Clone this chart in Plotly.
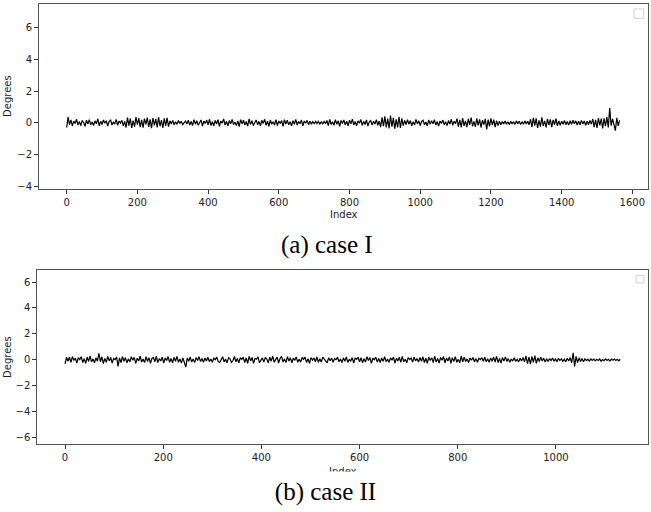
import plotly.graph_objects as go

W, H = 651, 512

# ---------------- data ----------------
# case I: sampled every 4th index (0..1564)
step_a = 4
degrees_a = [
    -0.30, 0.35, -0.12, 0.18, -0.20, 0.10, -0.05, 0.22, -0.15, 0.08, -0.18, 0.14, 0.02, -0.22, 0.16, -0.08, 0.20, -0.12, 0.05, -0.17,
    0.12, -0.06, 0.24, -0.19, 0.09, -0.11, 0.17, -0.03, 0.13, -0.21, 0.07, 0.19, -0.14, 0.04, -0.09, 0.21, -0.16, 0.11, -0.02, 0.15,
    -0.20, 0.08, -0.30, 0.32, -0.18, 0.27, -0.33, 0.14, -0.25, 0.35, -0.12, 0.29, -0.28, 0.19, -0.31, 0.26, -0.10, 0.33, -0.27, 0.21,
    -0.34, 0.30, -0.16, 0.24, -0.29, 0.36, -0.22, 0.17, -0.32, 0.28, -0.19, 0.31, -0.24, 0.12, -0.08, 0.15, -0.13, 0.06, -0.10, 0.14,
    -0.05, 0.09, -0.12, 0.03, 0.11, -0.07, 0.16, -0.14, 0.08, -0.18, 0.20, -0.09, 0.13, -0.16, 0.05, 0.18, -0.21, 0.10, -0.04, 0.17,
    -0.13, 0.22, -0.17, 0.06, -0.20, 0.15, -0.08, 0.19, -0.23, 0.11, -0.02, 0.24, -0.15, 0.09, -0.19, 0.14, -0.06, 0.21, -0.11, 0.04,
    -0.18, 0.12, -0.24, 0.20, -0.07, 0.16, -0.14, 0.08, -0.21, 0.25, -0.10, 0.13, -0.17, 0.05, 0.18, -0.12, 0.09, -0.20, 0.15, -0.04,
    0.22, -0.16, 0.10, -0.22, 0.17, -0.09, 0.06, -0.14, 0.20, -0.18, 0.11, -0.05, 0.14, -0.23, 0.19, -0.08, 0.16, -0.13, 0.07, -0.19,
    0.13, -0.10, 0.21, -0.15, 0.08, -0.06, 0.17, -0.20, 0.11, -0.03, 0.15, -0.12, 0.09, -0.10, 0.07, -0.06, 0.09, -0.05, 0.08, -0.08,
    0.06, -0.07, 0.08, -0.06, 0.14, -0.18, 0.21, -0.11, 0.07, -0.16, 0.19, -0.09, 0.12, -0.22, 0.15, -0.05, 0.18, -0.13, 0.10, -0.20,
    0.16, -0.07, 0.23, -0.14, 0.08, -0.19, 0.12, -0.03, 0.20, -0.17, 0.09, -0.11, 0.18, -0.21, 0.06, 0.14, -0.15, 0.10, -0.08, 0.19,
    -0.16, 0.11, -0.28, 0.34, -0.22, 0.40, -0.30, 0.26, -0.36, 0.45, -0.25, 0.31, -0.38, 0.22, -0.29, 0.37, -0.33, 0.28, -0.18, 0.15,
    -0.12, 0.20, -0.09, 0.14, -0.19, 0.07, -0.15, 0.21, -0.06, 0.12, -0.17, 0.09, 0.16, -0.13, 0.05, -0.20, 0.18, -0.10, 0.13, -0.07,
    0.19, -0.15, 0.08, -0.21, 0.11, -0.04, 0.17, -0.12, 0.06, -0.18, 0.14, -0.09, 0.22, -0.16, 0.10, -0.06, 0.26, -0.24, 0.18, -0.29,
    0.30, -0.20, 0.12, -0.27, 0.25, -0.14, 0.33, -0.22, 0.09, -0.26, 0.28, -0.17, 0.21, -0.30, 0.16, -0.12, 0.24, -0.42, 0.19, -0.23,
    0.27, -0.15, 0.20, -0.28, 0.13, -0.18, 0.10, -0.12, 0.08, -0.07, 0.11, -0.09, 0.06, -0.12, 0.10, -0.08, 0.07, -0.11, 0.12, -0.06,
    0.09, -0.11, 0.07, -0.10, 0.12, -0.08, 0.10, -0.12, 0.22, -0.26, 0.31, -0.18, 0.28, -0.33, 0.15, -0.24, 0.34, -0.20, 0.12, -0.29,
    0.25, -0.14, 0.21, -0.27, 0.18, -0.11, 0.26, -0.19, 0.12, -0.16, 0.10, -0.09, 0.14, -0.12, 0.08, -0.15, 0.13, -0.10, 0.16, -0.07,
    0.12, -0.14, 0.09, -0.13, 0.15, -0.08, 0.11, -0.16, 0.10, -0.12, 0.14, -0.09, 0.24, -0.28, 0.19, -0.33, 0.30, -0.17, 0.26, -0.35,
    0.28, -0.22, 0.36, -0.30, 0.92, -0.18, 0.24, -0.12, -0.50, 0.31, -0.20, 0.15,
]
index_a = [i * step_a for i in range(len(degrees_a))]

# case II: sampled every 3rd index (0..1131)
step_b = 3
degrees_b = [
    -0.30, 0.20, -0.10, 0.22, -0.18, 0.26, -0.04, 0.14, -0.24, 0.18, 0.02, 0.25, -0.20, 0.10, -0.27, 0.22, -0.12, 0.30, -0.16, 0.08,
    -0.22, 0.16, -0.10, 0.50, -0.14, 0.24, -0.28, 0.12, -0.18, 0.27, -0.08, 0.19, -0.25, 0.11, 0.03, 0.22, -0.50, 0.15, -0.20, 0.26,
    -0.11, 0.18, -0.23, 0.08, -0.15, 0.24, -0.02, 0.20, -0.26, 0.14, -0.09, 0.28, -0.16, 0.07, -0.21, 0.25, -0.12, 0.17, -0.27, 0.11,
    0.19, -0.14, 0.29, -0.20, 0.10, -0.08, 0.22, -0.24, 0.15, -0.04, 0.26, -0.18, 0.12, -0.22, 0.20, -0.11, 0.27, -0.19, 0.08, -0.25,
    0.16, -0.30, -0.55, 0.14, -0.10, 0.22, -0.16, 0.07, -0.21, 0.18, -0.05, 0.24, -0.13, 0.11, -0.19, 0.15, -0.08, 0.20, -0.12, 0.06,
    -0.18, 0.14, 0.02, 0.21, -0.12, -0.20, 0.09, 0.24, -0.15, 0.06, -0.22, 0.17, 0.08, -0.19, -0.05, 0.26, -0.14, 0.11, -0.23, 0.18,
    0.03, 0.22, -0.20, 0.15, -0.26, 0.28, -0.08, 0.19, -0.27, 0.12, 0.05, 0.24, -0.21, -0.04, 0.16, -0.17, 0.20, 0.07, -0.23, 0.21,
    -0.10, 0.29, -0.18, 0.02, 0.22, -0.24, 0.11, 0.27, -0.16, 0.08, -0.21, 0.25, -0.09, 0.17, -0.22, 0.13, -0.03, 0.23, -0.19, 0.06,
    -0.17, 0.19, 0.04, 0.22, -0.20, 0.10, -0.26, 0.18, -0.02, 0.15, -0.14, 0.24, -0.18, 0.09, -0.16, 0.21, 0.05, -0.12, -0.22, 0.17,
    -0.06, 0.14, -0.18, 0.11, 0.02, 0.20, -0.15, 0.07, -0.21, 0.16, -0.10, 0.23, -0.19, 0.03, -0.08, 0.18, -0.24, 0.14, 0.04, 0.20,
    -0.14, 0.17, -0.22, 0.09, -0.16, 0.25, -0.04, 0.19, -0.26, 0.13, 0.01, 0.21, -0.17, 0.12, -0.20, 0.15, -0.11, 0.24, -0.13, 0.06,
    -0.19, 0.16, -0.02, 0.22, -0.24, 0.12, -0.08, 0.20, -0.18, 0.27, -0.14, 0.05, -0.22, 0.18, 0.03, 0.14, -0.17, 0.21, -0.07, 0.11,
    -0.16, 0.19, -0.10, 0.24, -0.20, 0.13, -0.26, 0.22, -0.05, 0.17, -0.21, 0.28, -0.17, 0.12, -0.24, 0.19, -0.02, 0.26, -0.22, 0.15,
    -0.09, 0.23, -0.27, 0.17, -0.13, 0.25, -0.18, 0.04, -0.23, 0.30, -0.15, 0.20, -0.12, 0.08, -0.20, 0.15, -0.03, 0.19, -0.14, 0.10,
    -0.18, 0.13, 0.02, 0.17, -0.11, 0.20, -0.15, 0.09, -0.19, 0.14, -0.10, 0.22, -0.16, 0.27, -0.21, 0.11, -0.25, 0.18, -0.08, 0.23,
    -0.13, 0.10, -0.18, 0.07, -0.09, 0.16, -0.11, 0.05, -0.15, 0.12, -0.08, 0.18, -0.14, 0.30, -0.28, 0.22, -0.32, 0.25, -0.19, 0.33,
    -0.26, 0.16, -0.12, 0.20, -0.09, 0.14, -0.17, 0.08, -0.13, 0.11, -0.06, 0.15, -0.10, 0.07, -0.14, 0.12, -0.05, 0.09, -0.11, 0.06,
    -0.15, 0.13, -0.08, 0.18, -0.22, 0.55, -0.50, 0.28, -0.20, 0.16, -0.12, 0.10, -0.14, 0.08, -0.06, 0.05, -0.09, 0.07, -0.04, 0.06,
    -0.08, 0.04, -0.05, 0.07, -0.10, 0.03, -0.06, 0.08, -0.04, 0.05, -0.09, 0.06, -0.03, 0.07, -0.05, 0.04, -0.07, 0.05,
]
index_b = [i * step_b for i in range(len(degrees_b))]

xticks_a = [0, 200, 400, 600, 800, 1000, 1200, 1400, 1600]
yticks_a = [-4, -2, 0, 2, 4, 6]
xticks_b = [0, 200, 400, 600, 800, 1000]
yticks_b = [-6, -4, -2, 0, 2, 4, 6]

caption_a = "(a) case I"
caption_b = "(b) case II"
xlabel = "Index"
ylabel = "Degrees"

# ---------------- figure ----------------
def px_x(p):
    return p / W

def px_y(p):
    return 1 - p / H

fig = go.Figure()
fig.add_trace(go.Scatter(x=index_a, y=degrees_a, mode="lines",
                         line=dict(color="black", width=1.2),
                         xaxis="x", yaxis="y", showlegend=False))
fig.add_trace(go.Scatter(x=index_b, y=degrees_b, mode="lines",
                         line=dict(color="black", width=1.2),
                         xaxis="x2", yaxis="y2", showlegend=False))

tickfont = dict(family="DejaVu Sans", size=10, color="#222")
axis_common = dict(showgrid=False, zeroline=False, showline=True, mirror=True,
                   linecolor="#555", linewidth=1, ticks="outside", ticklen=4,
                   tickcolor="#333", tickwidth=1, tickfont=tickfont)

fig.update_layout(
    width=W, height=H,
    margin=dict(l=0, r=0, t=0, b=0),
    paper_bgcolor="white", plot_bgcolor="white",
    showlegend=False,
    xaxis=dict(domain=[px_x(39), px_x(648)], range=[-78.3, 1644.3],
               tickvals=xticks_a, anchor="y", **axis_common),
    yaxis=dict(domain=[px_y(190), px_y(4)], range=[-4.17, 7.49],
               tickvals=yticks_a, anchor="x", **axis_common),
    xaxis2=dict(domain=[px_x(37.3), px_x(648)], range=[-56.5, 1187.5],
                tickvals=xticks_b, anchor="y2", **axis_common),
    yaxis2=dict(domain=[px_y(447), px_y(271.7)], range=[-6.51, 6.92],
                tickvals=yticks_b, anchor="x2", **axis_common),
)

labfont = dict(family="DejaVu Sans", size=10, color="#222")
capfont = dict(family="Liberation Serif", size=25, color="black")

annotations = [
    dict(text=xlabel, x=px_x(343.5), y=px_y(216), xref="paper", yref="paper",
         showarrow=False, font=labfont, xanchor="center", yanchor="middle"),
    dict(text=ylabel, x=px_x(7.5), y=px_y(97), xref="paper", yref="paper",
         showarrow=False, font=labfont, textangle=-90, xanchor="center", yanchor="middle"),
    dict(text=ylabel, x=px_x(7.5), y=px_y(359.5), xref="paper", yref="paper",
         showarrow=False, font=labfont, textangle=-90, xanchor="center", yanchor="middle"),
    dict(text=caption_a, x=px_x(326.5), y=px_y(246), xref="paper", yref="paper",
         showarrow=False, font=capfont, xanchor="center", yanchor="middle"),
    dict(text=xlabel, x=px_x(342.5), y=px_y(474), xref="paper", yref="paper",
         showarrow=False, font=labfont, xanchor="center", yanchor="middle"),
    # caption b with white background covering the clipped lower part of "Index"
    dict(text=caption_b, x=0.5, y=px_y(474), xref="paper", yref="paper",
         showarrow=False, font=capfont, xanchor="center", yanchor="top",
         width=W, height=40, bgcolor="white", borderpad=0, valign="middle"),
]
fig.update_layout(annotations=annotations)

# empty legend boxes (as in the original)
shapes = [
    dict(type="rect", xref="paper", yref="paper",
         x0=px_x(634), x1=px_x(643.5), y0=px_y(18.5), y1=px_y(9),
         line=dict(color="#d0d0d0", width=1), fillcolor="white"),
    dict(type="rect", xref="paper", yref="paper",
         x0=px_x(636), x1=px_x(644), y0=px_y(284.5), y1=px_y(277),
         line=dict(color="#d0d0d0", width=1), fillcolor="white"),
]
fig.update_layout(shapes=shapes)

fig.write_html("out.html")
